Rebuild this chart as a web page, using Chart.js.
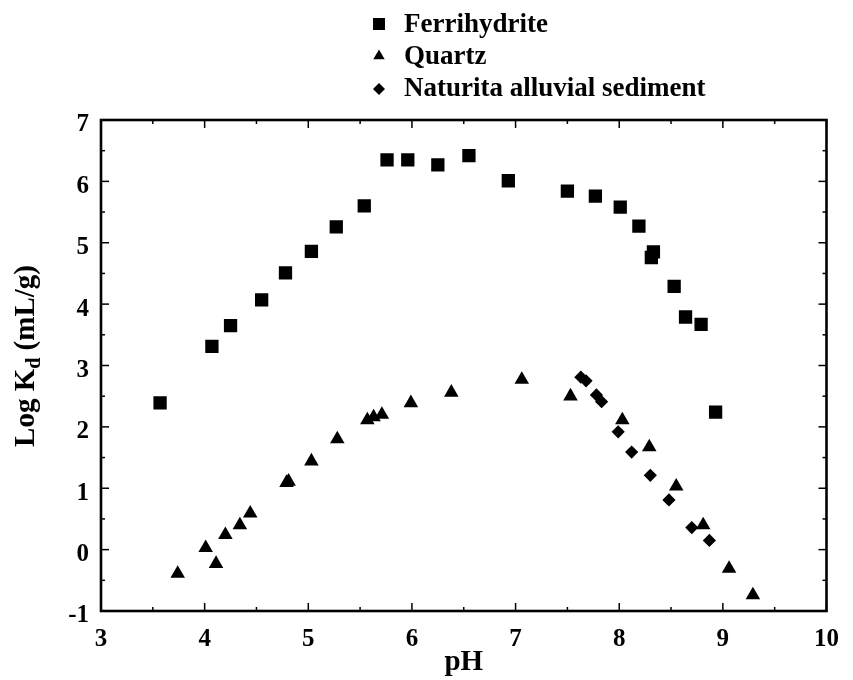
<!DOCTYPE html>
<html><head><meta charset="utf-8">
<script src="https://cdn.jsdelivr.net/npm/chart.js@4/dist/chart.umd.min.js"></script>
<style>html,body{margin:0;padding:0;background:#fff;}</style>
</head><body>
<canvas id="c" width="853" height="680"></canvas>
<script>
// ---- data ----
const ferrihydritePH    = [3.57, 4.07, 4.25, 4.55, 4.78, 5.03, 5.27, 5.54, 5.76, 5.96, 6.25, 6.55, 6.93, 7.50, 7.77, 8.01, 8.19, 8.33, 8.31, 8.53, 8.64, 8.79, 8.93];
const ferrihydriteLogKd = [2.39, 3.31, 3.65, 4.07, 4.51, 4.86, 5.26, 5.60, 6.35, 6.35, 6.27, 6.42, 6.01, 5.84, 5.76, 5.58, 5.27, 4.85, 4.76, 4.29, 3.79, 3.67, 2.24];
const quartzPH    = [3.74, 4.01, 4.11, 4.20, 4.34, 4.44, 4.79, 4.81, 5.03, 5.28, 5.57, 5.63, 5.71, 5.99, 6.38, 7.06, 7.53, 8.03, 8.29, 8.55, 8.81, 9.06, 9.29];
const quartzLogKd = [-0.39, 0.03, -0.23, 0.24, 0.40, 0.59, 1.09, 1.11, 1.44, 1.80, 2.11, 2.16, 2.20, 2.39, 2.56, 2.77, 2.50, 2.11, 1.67, 1.03, 0.40, -0.31, -0.74];
const sedimentPH    = [7.63, 7.68, 7.78, 7.83, 7.99, 8.12, 8.30, 8.48, 8.70, 8.87];
const sedimentLogKd = [2.81, 2.75, 2.52, 2.41, 1.92, 1.59, 1.21, 0.81, 0.36, 0.15];
const seriesNames = ['Ferrihydrite', 'Quartz', 'Naturita alluvial sediment'];
const xTickValues = [3, 4, 5, 6, 7, 8, 9, 10];
const yTickValues = [-1, 0, 1, 2, 3, 4, 5, 6, 7];
const xTitle = 'pH';
const yTitleParts = ['Log K', 'd', ' (mL/g)'];

const FONT = "'Liberation Serif', 'Times New Roman', serif";
const toPts = (xs, ys) => xs.map((v, i) => ({x: v, y: ys[i]}));

const decorPlugin = {
  id: 'decor',
  afterDraw(chart) {
    const ctx = chart.ctx, a = chart.chartArea, sx = chart.scales.x, sy = chart.scales.y;
    ctx.save();
    ctx.strokeStyle = '#000';
    ctx.lineWidth = 1.5;
    const seg = (x1, y1, x2, y2) => { ctx.beginPath(); ctx.moveTo(x1, y1); ctx.lineTo(x2, y2); ctx.stroke(); };
    for (let v = sx.min; v <= sx.max + 1e-9; v += 0.5) {
      const p = sx.getPixelForValue(v);
      const len = Math.abs(v - Math.round(v)) < 1e-9 ? 8 : 4;
      seg(p, a.bottom, p, a.bottom - len);
      seg(p, a.top, p, a.top + len);
    }
    for (let v = sy.min; v <= sy.max + 1e-9; v += 0.5) {
      const p = sy.getPixelForValue(v);
      const len = Math.abs(v - Math.round(v)) < 1e-9 ? 8 : 4;
      seg(a.left, p, a.left + len, p);
      seg(a.right, p, a.right - len, p);
    }
    ctx.lineWidth = 2.6;
    ctx.strokeRect(a.left, a.top, a.right - a.left, a.bottom - a.top);

    // y-axis title with subscript
    ctx.fillStyle = '#000';
    const big = 'bold 29px ' + FONT, small = 'bold 20px ' + FONT;
    ctx.font = big; const w0 = ctx.measureText(yTitleParts[0]).width;
    ctx.font = small; const w1 = ctx.measureText(yTitleParts[1]).width;
    ctx.font = big; const w2 = ctx.measureText(yTitleParts[2]).width;
    const total = w0 + w1 + w2;
    ctx.translate(34, 356);
    ctx.rotate(-Math.PI / 2);
    ctx.textBaseline = 'alphabetic';
    ctx.textAlign = 'left';
    let cx = -total / 2;
    ctx.font = big; ctx.fillText(yTitleParts[0], cx, 0); cx += w0;
    ctx.font = small; ctx.fillText(yTitleParts[1], cx, 6); cx += w1;
    ctx.font = big; ctx.fillText(yTitleParts[2], cx, 0);
    ctx.restore();

    // legend
    ctx.save();
    const rows = [
      {y: 24, base: 32, r: 8.5},
      {y: 56, base: 63.5, r: 6.6},
      {y: 89, base: 95.5, r: 6}
    ];
    chart.data.datasets.forEach((ds, i) => {
      const row = rows[i];
      ctx.fillStyle = '#000';
      ctx.strokeStyle = '#000';
      if (Chart.helpers && Chart.helpers.drawPoint) {
        Chart.helpers.drawPoint(ctx, {pointStyle: ds.pointStyle, radius: row.r, rotation: 0, borderWidth: 0}, 379, row.y);
      }
      ctx.font = 'bold 27px ' + FONT;
      ctx.textBaseline = 'alphabetic';
      ctx.textAlign = 'left';
      ctx.fillText(ds.label, 404, row.base);
    });
    ctx.restore();
  }
};

new Chart(document.getElementById('c'), {
  type: 'scatter',
  data: {
    datasets: [
      {label: seriesNames[0], data: toPts(ferrihydritePH, ferrihydriteLogKd), pointStyle: 'rect', pointRadius: 9.4, backgroundColor: '#000', borderColor: '#000', borderWidth: 0},
      {label: seriesNames[1], data: toPts(quartzPH, quartzLogKd), pointStyle: 'triangle', pointRadius: 8.4, backgroundColor: '#000', borderColor: '#000', borderWidth: 0},
      {label: seriesNames[2], data: toPts(sedimentPH, sedimentLogKd), pointStyle: 'rectRot', pointRadius: 6.6, backgroundColor: '#000', borderColor: '#000', borderWidth: 0}
    ]
  },
  options: {
    responsive: false,
    animation: false,
    devicePixelRatio: 1,
    events: [],
    layout: {padding: {top: 120, right: 13, left: 0, bottom: 0}},
    plugins: {legend: {display: false}, tooltip: {enabled: false}},
    scales: {
      x: {
        type: 'linear', min: 3, max: 10,
        afterFit: s => { s.height = 69; },
        afterBuildTicks: s => { s.ticks = xTickValues.map(v => ({value: v})); },
        grid: {display: false, drawTicks: false},
        border: {display: false},
        ticks: {color: '#000', padding: 14, font: {family: FONT, size: 25, weight: 'bold'}},
        title: {display: true, text: xTitle, color: '#000', padding: {top: 0, bottom: 0}, font: {family: FONT, size: 29, weight: 'bold'}}
      },
      y: {
        type: 'linear', min: -1, max: 7,
        afterFit: s => { s.width = 101; },
        afterBuildTicks: s => { s.ticks = yTickValues.map(v => ({value: v})); },
        grid: {display: false, drawTicks: false},
        border: {display: false},
        ticks: {color: '#000', padding: 12, labelOffset: 5, font: {family: FONT, size: 25, weight: 'bold'}}
      }
    }
  },
  plugins: [decorPlugin]
});
</script>
</body></html>
